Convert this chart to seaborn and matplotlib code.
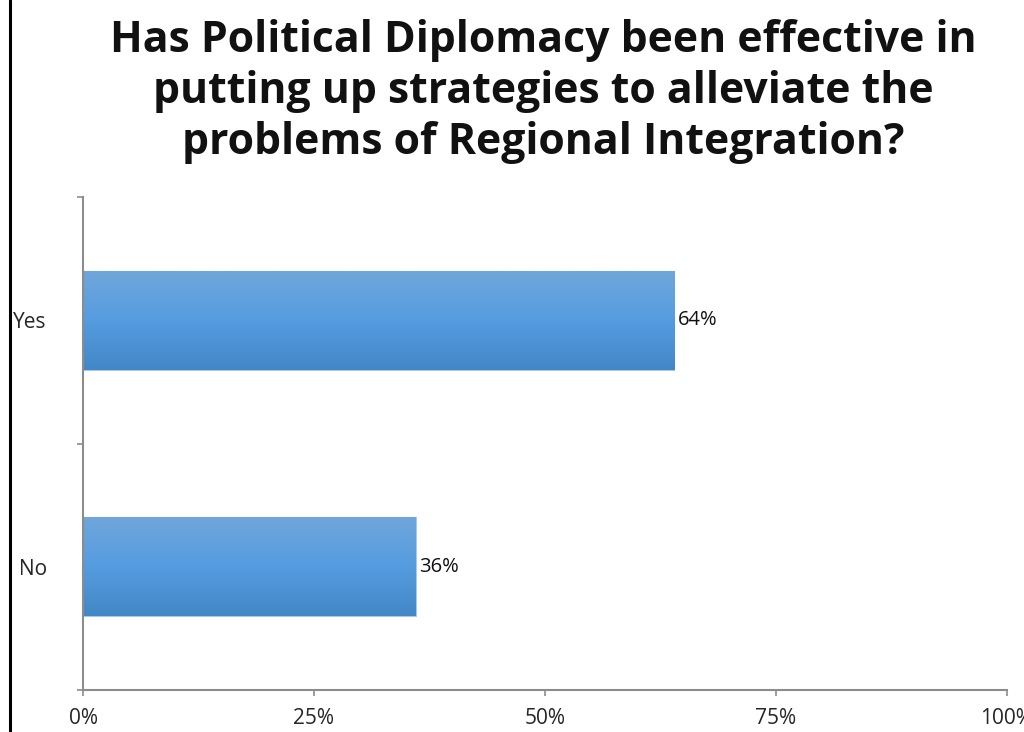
import numpy as np
import pandas as pd
import matplotlib
matplotlib.use("Agg")
import matplotlib.pyplot as plt
import seaborn as sns
from matplotlib.colors import LinearSegmentedColormap
from matplotlib.lines import Line2D

categories = ["Yes", "No"]
shares = [64, 36]
tick_values = [0, 25, 50, 75, 100]
tick_labels = ["0%", "25%", "50%", "75%", "100%"]
title = ("Has Political Diplomacy been effective in\n"
         "putting up strategies to alleviate the\n"
         "problems of Regional Integration?")

sns.set_theme(style="white")
plt.rcParams["font.family"] = ["Open Sans", "DejaVu Sans"]

df = pd.DataFrame({"answer": categories, "share": shares})

fig = plt.figure(figsize=(10.24, 7.32), dpi=100)
ax = fig.add_axes([83 / 1024, 42 / 732, 924 / 1024, 493 / 732])

sns.barplot(data=df, x="share", y="answer", order=categories, orient="h",
            width=0.4, color="#5b9bd5", edgecolor="#a9c8ea", linewidth=0.8, ax=ax)

ax.set_xlim(0, 100)
ax.set_ylim(1.5, -0.5)

# vertical gradient fill clipped to every bar: lighter on top, deeper at the bottom
grad = LinearSegmentedColormap.from_list("bar", ["#4387c6", "#559ce0", "#6fa6db"])
for p in ax.patches:
    x0, y0 = p.get_x(), p.get_y()
    w, h = p.get_width(), p.get_height()
    img = ax.imshow(np.linspace(0, 1, 64).reshape(-1, 1), cmap=grad, aspect="auto",
                    extent=(x0, x0 + w, y0, y0 + h), origin="upper", zorder=p.get_zorder() + 0.1)
    img.set_clip_path(p)
    ax.text(x0 + w + 0.4, y0 + h / 2, f"{w:.0f}%", va="center", ha="left",
            fontsize=14.5, color="#111111")
ax.set_xlim(0, 100)
ax.set_ylim(1.5, -0.5)

ax.set_xticks(tick_values)
ax.set_xticklabels(tick_labels, fontsize=15)
ax.set_yticks([-0.5, 0.5, 1.5], minor=False)
ax.set_yticklabels([])
ax.set_yticks([0, 1], minor=True)
ax.set_yticklabels(categories, minor=True, fontsize=15)
ax.tick_params(axis="y", which="minor", length=0, pad=26)
ax.tick_params(axis="y", which="major", length=4, width=1.2, color="#8c8c8c", left=True)
ax.tick_params(axis="x", length=4, width=1.2, color="#8c8c8c", bottom=True, pad=9)
ax.set_xlabel("")
ax.set_ylabel("")

for side in ["top", "right"]:
    ax.spines[side].set_visible(False)
for side in ["left", "bottom"]:
    ax.spines[side].set_color("#8c8c8c")
    ax.spines[side].set_linewidth(1.5)

fig.text(543 / 1024, 1 - 19 / 732, title, ha="center", va="top",
         fontsize=30.8, fontweight="bold", linespacing=1.24, color="#111111")

fig.add_artist(Line2D([10 / 1024, 10 / 1024], [0, 1], transform=fig.transFigure,
                      color="black", linewidth=2.2))

fig.savefig("out.png", dpi=100)
